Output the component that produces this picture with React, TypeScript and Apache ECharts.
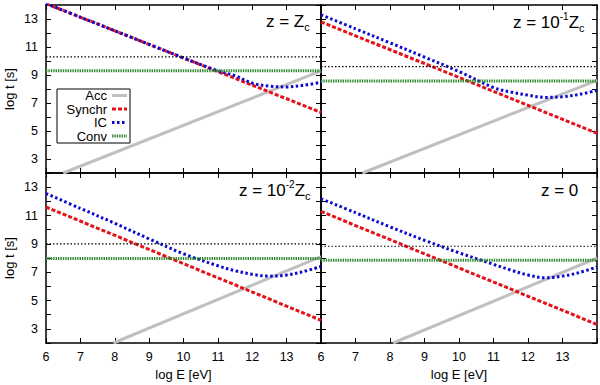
import React, { useEffect, useRef } from 'react';
import * as echarts from 'echarts';

// ---- data ----
const SERIES_NAMES = ['Acc', 'Synchr', 'IC', 'Conv'];

// panel order: top-left, top-right, bottom-left, bottom-right
const E_IC = [6, 7, 8, 9, 10, 11, 11.5, 12, 12.5, 13, 13.5, 14];
const IC_TL = [14.1, 13.13, 12.16, 11.19, 10.22, 9.3, 8.95, 8.42, 8.2, 8.15, 8.27, 8.48];
const IC_TR = [13.3, 12.3, 11.3, 10.28, 9.25, 8.1, 7.78, 7.56, 7.4, 7.45, 7.62, 7.9];
const IC_BL = [12.55, 11.5, 10.45, 9.35, 8.3, 7.45, 7.1, 6.85, 6.72, 6.8, 7.05, 7.4];
const IC_BR = [12.18, 11.2, 10.2, 9.25, 8.37, 7.55, 7.15, 6.8, 6.6, 6.72, 6.98, 7.37];

const ACC_TL = [[6.5, 2], [14, 9.3]];
const ACC_TR = [[7.2, 2], [14, 8.62]];
const ACC_BL = [[7.96, 2], [14, 8.1]];
const ACC_BR = [[8.09, 2], [14, 8.0]];

const SYN_TL = [[6, 14.1], [14, 6.33]];
const SYN_TR = [[6, 12.8], [14, 4.84]];
const SYN_BL = [[6, 11.6], [14, 3.6]];
const SYN_BR = [[6, 11.29], [14, 3.31]];

const CONV_LEVELS = [9.3, 8.57, 7.97, 7.85];
const REF_LEVELS = [10.3, 9.6, 9.0, 8.83];

const E_RANGE = [6, 14];
const T_RANGE = [2, 14];

const TITLES = [
  '{m|z = Z}{sub|c}',
  '{m|z = 10}{sup|-1}{m|Z}{sub|c}',
  '{m|z = 10}{sup|-2}{m|Z}{sub|c}',
  '{m|z = 0}',
];

const FONT = '"Liberation Sans", Arial, Helvetica, sans-serif';

const GRIDS = [
  { left: 46, top: 5, width: 275, height: 168 },
  { left: 321, top: 5, width: 276, height: 168 },
  { left: 46, top: 173, width: 275, height: 170 },
  { left: 321, top: 173, width: 276, height: 170 },
];

const TITLE_POS = [
  { x: 266, y: 21.5 },
  { x: 513, y: 22 },
  { x: 239, y: 190.5 },
  { x: 541, y: 190.5 },
];

const STYLES = {
  Acc: { color: '#c0c0c0', width: 3, type: 'solid' as any },
  Synchr: { color: '#e4101a', width: 3, type: [4, 2] as any },
  IC: { color: '#0a0ad0', width: 3, type: [2.5, 2.5] as any },
  Conv: { color: '#2f8a2f', width: 3, type: [1.4, 1] as any },
  Ref: { color: '#000000', width: 1.2, type: [1.5, 2] as any },
};

function buildOption() {
  const ics = [IC_TL, IC_TR, IC_BL, IC_BR];
  const accs = [ACC_TL, ACC_TR, ACC_BL, ACC_BR];
  const syns = [SYN_TL, SYN_TR, SYN_BL, SYN_BR];

  const xAxis: any[] = [];
  const yAxis: any[] = [];
  const series: any[] = [];
  const axisLine = { show: true, lineStyle: { color: '#000', width: 1.5 } };
  const tick = { show: true, inside: true, length: 5, lineStyle: { color: '#000', width: 1 } };

  GRIDS.forEach((g, i) => {
    const bottomRow = i >= 2;
    const leftCol = i % 2 === 0;
    xAxis.push({
      type: 'value', gridIndex: i, position: 'bottom',
      min: E_RANGE[0], max: E_RANGE[1], interval: 1,
      axisLine, axisTick: tick, splitLine: { show: false },
      axisLabel: {
        show: bottomRow, margin: 7, color: '#000', fontSize: 12.5, fontFamily: FONT,
        formatter: (v: number) => (v < E_RANGE[1] ? String(v) : ''),
      },
      name: bottomRow ? 'log E [eV]' : '', nameLocation: 'middle', nameGap: 25,
      nameTextStyle: { color: '#000', fontSize: 13, fontFamily: FONT },
    });
    xAxis.push({
      type: 'value', gridIndex: i, position: 'top',
      min: E_RANGE[0], max: E_RANGE[1], interval: 1,
      axisLine, axisTick: tick, splitLine: { show: false }, axisLabel: { show: false },
    });
    yAxis.push({
      type: 'value', gridIndex: i, position: 'left',
      min: T_RANGE[0], max: T_RANGE[1], interval: 1,
      axisLine, axisTick: tick, splitLine: { show: false },
      axisLabel: {
        show: leftCol, margin: 8, color: '#000', fontSize: 12.5, fontFamily: FONT,
        formatter: (v: number) => (v % 2 === 1 ? String(v) : ''),
      },
      name: leftCol ? 'log t [s]' : '', nameLocation: 'middle', nameGap: 30,
      nameTextStyle: { color: '#000', fontSize: 13, fontFamily: FONT },
    });
    yAxis.push({
      type: 'value', gridIndex: i, position: 'right',
      min: T_RANGE[0], max: T_RANGE[1], interval: 1,
      axisLine, axisTick: tick, splitLine: { show: false }, axisLabel: { show: false },
    });

    const common = {
      type: 'line', xAxisIndex: 2 * i, yAxisIndex: 2 * i, showSymbol: false,
      symbol: 'none', clip: true, silent: true,
    };
    series.push({ ...common, name: 'Acc', data: accs[i], lineStyle: STYLES.Acc, itemStyle: { color: STYLES.Acc.color } });
    series.push({ ...common, name: 'Synchr', data: syns[i], lineStyle: STYLES.Synchr, itemStyle: { color: STYLES.Synchr.color } });
    series.push({
      ...common, name: 'IC', smooth: 0.35,
      data: E_IC.map((e, k) => [e, ics[i][k]]),
      lineStyle: STYLES.IC, itemStyle: { color: STYLES.IC.color },
    });
    series.push({
      ...common, name: 'Conv',
      data: [[E_RANGE[0], CONV_LEVELS[i]], [E_RANGE[1], CONV_LEVELS[i]]],
      lineStyle: STYLES.Conv, itemStyle: { color: STYLES.Conv.color },
    });
    series.push({
      ...common, name: 'ref',
      data: [[E_RANGE[0], REF_LEVELS[i]], [E_RANGE[1], REF_LEVELS[i]]],
      lineStyle: STYLES.Ref, itemStyle: { color: STYLES.Ref.color },
    });
  });

  const rich = {
    m: { fontSize: 17, fontFamily: FONT, color: '#000', lineHeight: 22 },
    sup: { fontSize: 10, fontFamily: FONT, color: '#000', lineHeight: 10, verticalAlign: 'top' },
    sub: { fontSize: 11, fontFamily: FONT, color: '#000', lineHeight: 10, verticalAlign: 'bottom' },
  };

  const graphic: any[] = TITLES.map((t, i) => ({
    type: 'text', x: TITLE_POS[i].x, y: TITLE_POS[i].y, z: 100,
    style: { text: t, rich, align: 'left', verticalAlign: 'middle' },
  }));

  // legend box
  const lg = { x: 57, y: 89, w: 73, h: 54, textX: 107, lineX1: 112, lineX2: 127, rows: [95.5, 109, 122.5, 136] };
  graphic.push({
    type: 'rect', z: 100,
    shape: { x: lg.x, y: lg.y, width: lg.w, height: lg.h },
    style: { fill: '#fff', stroke: '#000', lineWidth: 1 },
  });
  SERIES_NAMES.forEach((n, k) => {
    const st = (STYLES as any)[n];
    graphic.push({
      type: 'text', z: 101, x: lg.textX, y: lg.rows[k],
      style: { text: n, fill: '#000', font: `13px ${FONT}`, align: 'right', verticalAlign: 'middle' },
    });
    graphic.push({
      type: 'line', z: 101,
      shape: { x1: lg.lineX1, y1: lg.rows[k], x2: lg.lineX2, y2: lg.rows[k] },
      style: {
        stroke: st.color, lineWidth: st.width,
        lineDash: Array.isArray(st.type) ? st.type : null,
      },
    });
  });

  return {
    animation: false,
    backgroundColor: '#fff',
    grid: GRIDS.map((g) => ({ ...g, containLabel: false })),
    xAxis,
    yAxis,
    series,
    graphic,
  };
}

export default function App() {
  const ref = useRef<HTMLDivElement>(null);
  useEffect(() => {
    document.body.style.margin = '0';
    const chart = echarts.init(ref.current!, undefined, { renderer: 'svg' });
    chart.setOption(buildOption() as any);
    return () => chart.dispose();
  }, []);
  return <div ref={ref} style={{ width: 600, height: 385 }} />;
}
